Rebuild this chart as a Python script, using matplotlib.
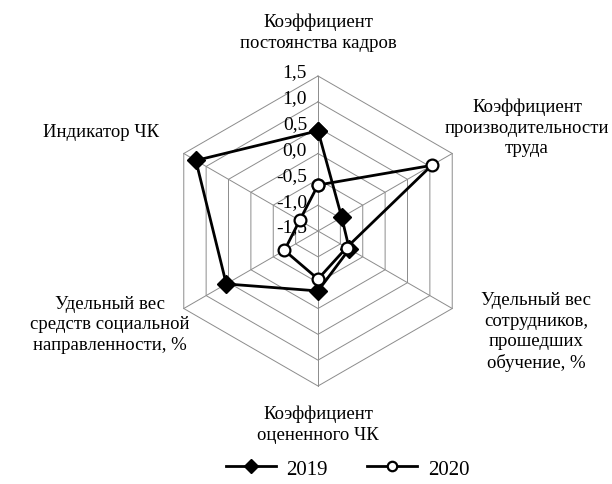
import numpy as np
import matplotlib
matplotlib.use("Agg")
import matplotlib.pyplot as plt

plt.rcParams['font.family'] = ['Liberation Serif', 'DejaVu Serif']

categories = [
    "Коэффициент\nпостоянства кадров",
    "Коэффициент\nпроизводительности\nтруда",
    "Удельный вес\nсотрудников,\nпрошедших\nобучение, %",
    "Коэффициент\nоцененного ЧК",
    "Удельный вес\nсредств социальной\nнаправленности, %",
    "Индикатор ЧК",
]
values_2019 = [0.44, -0.97, -0.80, -0.34, 0.55, 1.23]
values_2020 = [-0.61, 1.04, -0.86, -0.57, -0.75, -1.09]
ticks = [-1.5, -1.0, -0.5, 0.0, 0.5, 1.0, 1.5]
tick_labels = ["-1,5", "-1,0", "-0,5", "0,0", "0,5", "1,0", "1,5"]

vmin, vmax = -1.5, 1.5
n = len(categories)
ang = np.arange(n) * 2 * np.pi / n  # clockwise from top


def xy(vals):
    r = np.asarray(vals) - vmin
    x = r * np.sin(ang)
    y = r * np.cos(ang)
    return np.append(x, x[0]), np.append(y, y[0])


fig = plt.figure(figsize=(6.12, 4.85), dpi=100)
ax = fig.add_axes([0, 0, 1, 1])
ax.set_axis_off()
# center at (318, 232) px, 3 units = 155 px
k = 155 / 3.0
ax.set_xlim(-318 / k, (612 - 318) / k)
ax.set_ylim(-(485 - 232) / k, 232 / k)

# hexagonal grid
for t in ticks[1:]:
    gx, gy = xy([t] * n)
    ax.plot(gx, gy, color="#8c8c8c", lw=0.7, zorder=1)
rmax = vmax - vmin
for a in ang:
    ax.plot([0, rmax * np.sin(a)], [0, rmax * np.cos(a)], color="#8c8c8c", lw=0.7, zorder=1)

# tick labels
for t, lab in zip(ticks, tick_labels):
    ax.text(-11 / k, (t - vmin) + 4 / k, lab, ha="right", va="center", fontsize=14)

# series
x1, y1 = xy(values_2019)
ax.plot(x1, y1, color="black", lw=2, marker="D", ms=9, mfc="black", mec="black",
        zorder=3, label="2019")
x2, y2 = xy(values_2020)
ax.plot(x2, y2, color="black", lw=2, marker="o", ms=8.5, mfc="white", mec="black",
        mew=1.6, zorder=4, label="2020")

# category labels (pixel positions)
label_pos = [(318, 33), (527, 128), (536, 332), (318, 425), (110, 325), (101, 133)]
for lab, (px, py) in zip(categories, label_pos):
    ax.text((px - 318) / k, (232 - py) / k, lab, ha="center", va="center", fontsize=13.5,
            linespacing=1.28)

leg = ax.legend(loc="center", bbox_to_anchor=(0.568, 0.031), ncol=2, frameon=False,
                fontsize=15, handlelength=2.4, columnspacing=1.9, handletextpad=0.5,
                markerscale=0.8)

fig.savefig("out.png", dpi=100)
